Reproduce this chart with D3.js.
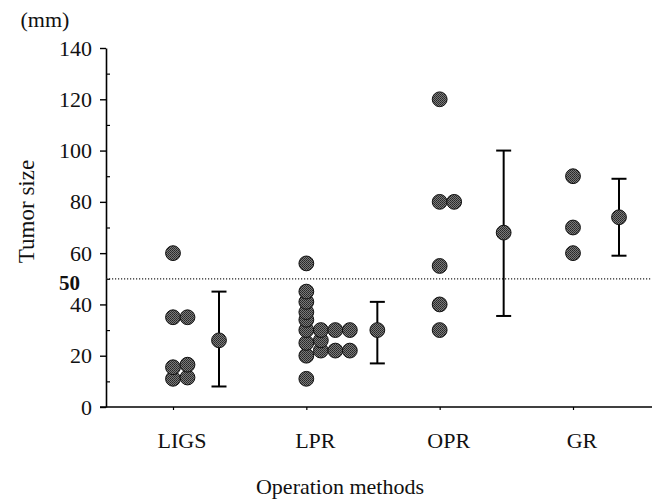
<!DOCTYPE html>
<html>
<head>
<meta charset="utf-8">
<script src="https://cdn.jsdelivr.net/npm/d3@7"></script>
<style>
  body { margin: 0; background: #fff; }
  svg { display: block; font-family: "Liberation Serif", "Times New Roman", serif; }
</style>
</head>
<body>
<div id="chart"></div>
<script>
// data
const categories = ["LIGS", "LPR", "OPR", "GR"];
const ligsSizes = [60, 35, 35, 16.5, 15.5, 11.5, 11];
const lprSizes = [56, 45, 41, 37, 34, 30, 30, 30, 30, 26, 25, 22, 22, 22, 20, 11];
const oprSizes = [120, 80, 80, 55, 40, 30];
const grSizes = [90, 70, 60];
const groupMeans = [26, 30, 68, 74];
const groupUpper = [45, 41, 100, 89];
const groupLower = [8, 17, 35.5, 59];
const yTicks = [0, 20, 40, 60, 80, 100, 120, 140];
const yMinorTicks = [10, 30, 50, 70, 90, 110, 130];
const cutoff = 50;

const width = 658, height = 501;
const axisX = 106, axisRight = 652;
const dotR = 7.4, colStep = 14.5;
const meanShift = [46, 71, 64, 46]; // horizontal gap from swarm to mean bar
const fontSize = 22;

const svg = d3.select("#chart").append("svg")
  .attr("width", width)
  .attr("height", height);

const defs = svg.append("defs");
const pat = defs.append("pattern")
  .attr("id", "stipple")
  .attr("width", 2).attr("height", 2)
  .attr("patternUnits", "userSpaceOnUse");
pat.append("rect").attr("width", 2).attr("height", 2).attr("fill", "#7a7a7a");
pat.append("rect").attr("width", 1).attr("height", 1).attr("fill", "#262626");
pat.append("rect").attr("x", 1).attr("y", 1).attr("width", 1).attr("height", 1).attr("fill", "#333");

const y = d3.scaleLinear().domain([0, 140]).range([407, 48]);
const x = d3.scalePoint().domain(categories).range([173, 573]);

// y axis
const yAxis = svg.append("g")
  .attr("transform", `translate(${axisX},0)`)
  .call(d3.axisLeft(y).tickValues(yTicks).tickSize(6).tickSizeOuter(0).tickPadding(8));
yAxis.select(".domain").attr("stroke", "#000").attr("stroke-width", 1.6);
yAxis.selectAll(".tick line").attr("stroke-width", 1.4);
yAxis.selectAll(".tick text")
  .attr("font-family", "Liberation Serif, serif")
  .attr("font-size", fontSize)
  .attr("fill", "#111");

const yMinor = svg.append("g")
  .attr("transform", `translate(${axisX},0)`)
  .call(d3.axisRight(y).tickValues(yMinorTicks).tickSize(4).tickFormat(""));
yMinor.select(".domain").remove();
yMinor.selectAll(".tick line").attr("stroke-width", 1.2);

// x axis
svg.append("line")
  .attr("x1", axisX - 6).attr("x2", axisRight)
  .attr("y1", y(0)).attr("y2", y(0))
  .attr("stroke", "#000").attr("stroke-width", 1.6);

const xAxis = svg.append("g")
  .attr("transform", `translate(0,${y(0)})`)
  .call(d3.axisBottom(x).tickSize(3).tickFormat(""));
xAxis.select(".domain").remove();
xAxis.selectAll(".tick line").attr("stroke-width", 1.2);

svg.append("g")
  .selectAll("text")
  .data(categories)
  .join("text")
  .attr("x", (d) => x(d) + 9)
  .attr("y", 448)
  .attr("text-anchor", "middle")
  .attr("font-size", fontSize)
  .attr("fill", "#111")
  .text((d) => d);

// cutoff line
svg.append("line")
  .attr("x1", axisX).attr("x2", axisRight)
  .attr("y1", y(cutoff)).attr("y2", y(cutoff))
  .attr("stroke", "#222")
  .attr("stroke-width", 1.2)
  .attr("stroke-dasharray", "1.2,1.8");

svg.append("text")
  .attr("x", 80).attr("y", y(cutoff) + 11)
  .attr("text-anchor", "end")
  .attr("font-size", fontSize - 1)
  .attr("font-weight", "bold")
  .attr("fill", "#111")
  .text(cutoff);

// simple column packing: equal-ish values go side by side
function swarm(values) {
  const placed = [];
  values.slice().sort((a, b) => a - b).forEach((v) => {
    let col = 0;
    while (placed.some((p) => p.col === col && Math.abs(p.v - v) < 2.5)) col++;
    placed.push({ v, col });
  });
  return placed;
}

const groups = [ligsSizes, lprSizes, oprSizes, grSizes];
const dots = [];
groups.forEach((vals, i) => {
  swarm(vals).forEach((p) => dots.push({ cat: categories[i], v: p.v, col: p.col }));
});

svg.append("g")
  .selectAll("circle")
  .data(dots)
  .join("circle")
  .attr("cx", (d) => x(d.cat) + d.col * colStep)
  .attr("cy", (d) => y(d.v))
  .attr("r", dotR)
  .attr("fill", "url(#stipple)")
  .attr("stroke", "#111")
  .attr("stroke-width", 1);

// mean and range bars
const bars = categories.map((c, i) => ({
  cx: x(c) + meanShift[i],
  mean: groupMeans[i],
  lo: groupLower[i],
  hi: groupUpper[i],
}));

const bar = svg.append("g").selectAll("g").data(bars).join("g");
bar.append("line")
  .attr("x1", (d) => d.cx).attr("x2", (d) => d.cx)
  .attr("y1", (d) => y(d.lo)).attr("y2", (d) => y(d.hi))
  .attr("stroke", "#000").attr("stroke-width", 2);
bar.selectAll(".cap")
  .data((d) => [d.lo, d.hi].map((v) => ({ cx: d.cx, v })))
  .join("line")
  .attr("class", "cap")
  .attr("x1", (d) => d.cx - 7.5).attr("x2", (d) => d.cx + 7.5)
  .attr("y1", (d) => y(d.v)).attr("y2", (d) => y(d.v))
  .attr("stroke", "#000").attr("stroke-width", 2);
bar.append("circle")
  .attr("cx", (d) => d.cx)
  .attr("cy", (d) => y(d.mean))
  .attr("r", dotR)
  .attr("fill", "url(#stipple)")
  .attr("stroke", "#111")
  .attr("stroke-width", 1);

// titles
svg.append("text")
  .attr("x", 45).attr("y", 27)
  .attr("text-anchor", "middle")
  .attr("font-size", fontSize)
  .attr("fill", "#111")
  .text("(mm)");

svg.append("text")
  .attr("transform", `translate(34,${(y(0) + y(140)) / 2 - 16}) rotate(-90)`)
  .attr("text-anchor", "middle")
  .attr("font-size", 23)
  .attr("fill", "#111")
  .text("Tumor size");

svg.append("text")
  .attr("x", 340).attr("y", 494)
  .attr("text-anchor", "middle")
  .attr("font-size", fontSize)
  .attr("fill", "#111")
  .text("Operation methods");
</script>
</body>
</html>
